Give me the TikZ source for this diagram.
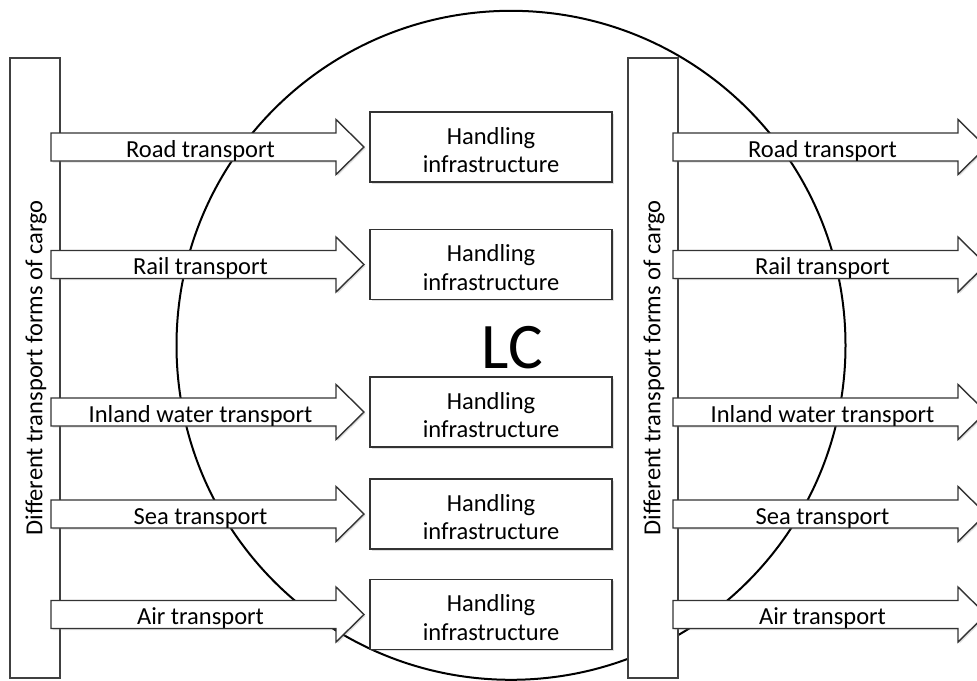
\documentclass[tikz,border=0pt]{standalone}
\usepackage{fontspec}
\setmainfont{Carlito}
\usetikzlibrary{shadows}
\begin{document}
\begin{tikzpicture}[x=1pt,y=-1pt,
  line join=miter,
  tall/.style={draw=black!75, line width=1.2pt, fill=white, minimum width=50pt, minimum height=620pt, inner sep=0pt},
  hbox/.style={draw=black!80, line width=1.2pt, fill=white, minimum width=242pt, minimum height=70pt,
    inner sep=0pt,
    drop shadow={shadow xshift=1.5pt, shadow yshift=-1.5pt, opacity=0.25}},
  barrow/.style={draw=black!80, line width=1.4pt, fill=white,
    drop shadow={shadow xshift=1.5pt, shadow yshift=-1.5pt, opacity=0.25}},
  txt/.style={font=\fontsize{24.5}{28.5}\selectfont, inner sep=0pt},
  lab/.style={txt, anchor=base},
  vlab/.style={txt, rotate=90},
]
\useasboundingbox (0,0) rectangle (977,680);
\clip (0,0) rectangle (977,680);
\fill[white] (0,0) rectangle (977,680);
% circle (LC)
\draw[line width=2pt] (511,345.3) circle[radius=334.5pt];
\node[font=\fontsize{65}{70}\selectfont, anchor=base, inner sep=0pt] (lc) at (512,368) {LC};
% tall frames
\node[tall] (L) at (35,368) {};
\node[tall] (R) at (653,368) {};
\node[vlab] (Lt) at ([xshift=1pt]L.center) {Different transport forms of cargo};
\node[vlab] (Rt) at ([xshift=1pt]R.center) {Different transport forms of cargo};
% arrows and handling boxes
\foreach \y/\t [count=\i] in {147/Road transport, 264.5/Rail transport, 412/Inland water transport, 514/Sea transport, 614.5/Air transport}{
  \draw[barrow] (51,\y-14) -- (336,\y-14) -- (336,\y-27.5) -- (364,\y) -- (336,\y+27.5) -- (336,\y+14) -- (51,\y+14) -- cycle;
  \node[lab] (la\i) at (200.5,\y+10) {\t};
  \draw[barrow] (673,\y-14) -- (958,\y-14) -- (958,\y-27.5) -- (986,\y) -- (958,\y+27.5) -- (958,\y+14) -- (673,\y+14) -- cycle;
  \node[lab] (ra\i) at (822.5,\y+10) {\t};
  \node[hbox] (h\i) at (491,\y) {};
  \node[txt, align=center] (ht\i) at (491,\y+3) {Handling\\infrastructure};
}
\end{tikzpicture}
\end{document}
